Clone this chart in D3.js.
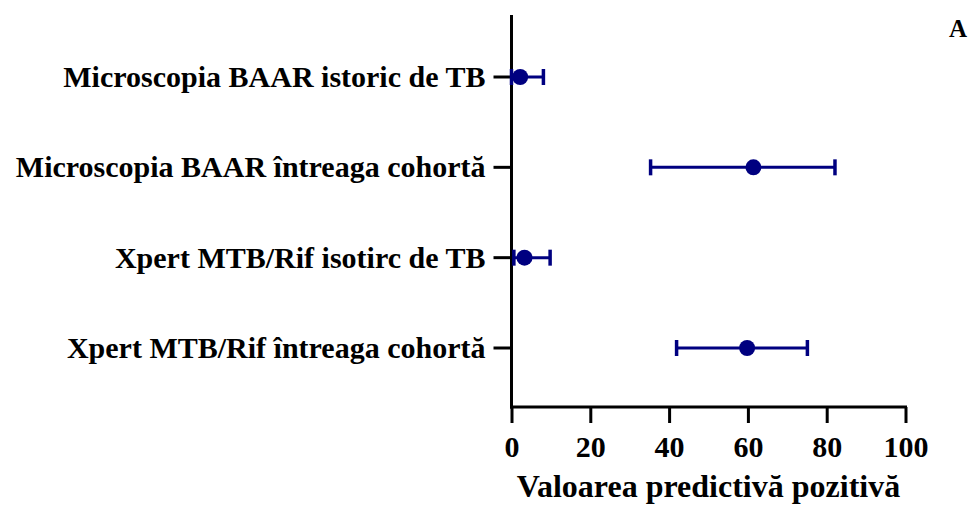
<!DOCTYPE html>
<html>
<head>
<meta charset="utf-8">
<script src="https://cdn.jsdelivr.net/npm/d3@7"></script>
<style>
  html, body { margin: 0; padding: 0; background: #fff; }
  svg text { font-family: "Liberation Serif", "Times New Roman", serif; font-weight: bold; }
</style>
</head>
<body>
<svg id="chart" width="971" height="510"></svg>
<script>
// Positive predictive value estimates with 95% confidence intervals
const categories = [
  "Microscopia BAAR istoric de TB",
  "Microscopia BAAR întreaga cohortă",
  "Xpert MTB/Rif isotirc de TB",
  "Xpert MTB/Rif întreaga cohortă"
];
const estimates = [2.2, 61.4, 3.3, 59.8];
const lowerCI   = [0.0, 35.3, 0.6, 41.9];
const upperCI   = [8.1, 82.1, 9.8, 75.1];
const xTicks    = [0, 20, 40, 60, 80, 100];
const xTitle    = "Valoarea predictivă pozitivă";
const panelTag  = "A";

const rows = categories.map((c, i) => ({
  cat: c, est: estimates[i], lo: lowerCI[i], hi: upperCI[i]
}));

const svg = d3.select("#chart");
const color = "#000080";

const x = d3.scaleLinear().domain([0, 100]).range([511.5, 905.5]);
const y = d3.scalePoint().domain(categories).range([77, 348]);
const axisTop = 15, axisBottom = 407;

// y axis line and category ticks
svg.append("line")
  .attr("x1", x(0)).attr("x2", x(0))
  .attr("y1", axisTop).attr("y2", axisBottom + 1.5)
  .attr("stroke", "#000").attr("stroke-width", 3);

const yg = svg.append("g");
yg.selectAll("line").data(categories).join("line")
  .attr("x1", x(0) - 18).attr("x2", x(0))
  .attr("y1", d => y(d)).attr("y2", d => y(d))
  .attr("stroke", "#000").attr("stroke-width", 3);
yg.selectAll("text").data(categories).join("text")
  .attr("x", x(0) - 26).attr("y", d => y(d))
  .attr("dy", "0.33em")
  .attr("text-anchor", "end")
  .attr("font-size", 30)
  .attr("fill", "#000")
  .text(d => d);

// x axis
const xAxis = d3.axisBottom(x).tickValues(xTicks).tickSize(16).tickPadding(13);
const xg = svg.append("g")
  .attr("transform", `translate(0,${axisBottom})`)
  .call(xAxis);
xg.select(".domain").attr("stroke", "#000").attr("stroke-width", 3)
  .attr("d", `M${x(0) - 1.5},0H${x(100) + 1.5}`);
xg.selectAll(".tick line").attr("stroke", "#000").attr("stroke-width", 3);
xg.selectAll(".tick text")
  .attr("font-size", 30)
  .attr("font-family", "Liberation Serif, Times New Roman, serif")
  .attr("font-weight", "bold")
  .attr("fill", "#000");

svg.append("text")
  .attr("x", (x(0) + x(100)) / 2)
  .attr("y", 497)
  .attr("text-anchor", "middle")
  .attr("font-size", 32)
  .attr("fill", "#000")
  .text(xTitle);

svg.append("text")
  .attr("x", 958).attr("y", 37)
  .attr("text-anchor", "middle")
  .attr("font-size", 25)
  .attr("fill", "#000")
  .text(panelTag);

// error bars and points
const g = svg.append("g");
const cap = 8;
const err = g.selectAll("g.err").data(rows).join("g").attr("class", "err");
err.append("line")
  .attr("x1", d => x(d.lo)).attr("x2", d => x(d.hi))
  .attr("y1", d => y(d.cat)).attr("y2", d => y(d.cat))
  .attr("stroke", color).attr("stroke-width", 3);
err.append("line")
  .attr("x1", d => x(d.lo)).attr("x2", d => x(d.lo))
  .attr("y1", d => y(d.cat) - cap).attr("y2", d => y(d.cat) + cap)
  .attr("stroke", color).attr("stroke-width", 3.5);
err.append("line")
  .attr("x1", d => x(d.hi)).attr("x2", d => x(d.hi))
  .attr("y1", d => y(d.cat) - cap).attr("y2", d => y(d.cat) + cap)
  .attr("stroke", color).attr("stroke-width", 3.5);
err.append("circle")
  .attr("cx", d => x(d.est)).attr("cy", d => y(d.cat))
  .attr("r", 8)
  .attr("fill", color);
</script>
</body>
</html>
